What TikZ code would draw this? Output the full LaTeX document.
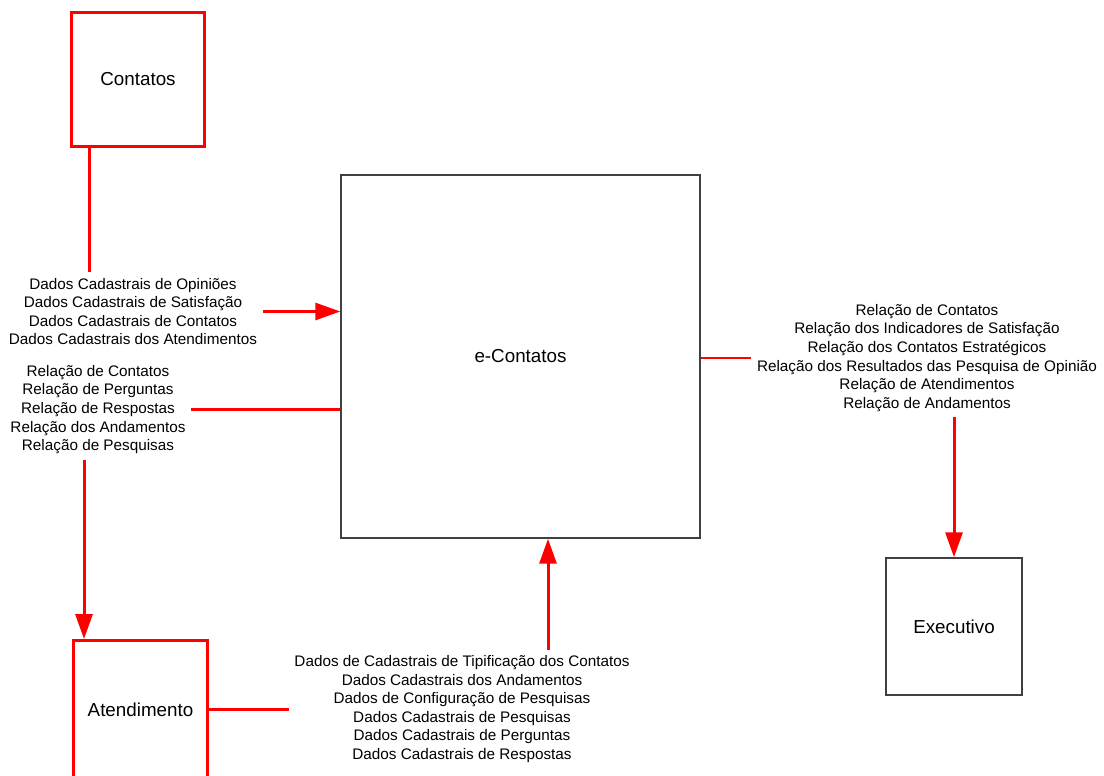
\documentclass[tikz,border=0pt]{standalone}
\usepackage{fontspec}
\setmainfont{Liberation Sans}
\usetikzlibrary{arrows.meta}
\begin{document}
\begin{tikzpicture}[x=0.02cm,y=-0.02cm,
  redbox/.style={draw=red,line width=0.06cm,minimum width=2.68cm,minimum height=2.68cm,font=\fontsize{10.7}{13}\selectfont},
  plainbox/.style={draw=black!75,line width=0.03cm,font=\fontsize{10.7}{13}\selectfont},
  lbl/.style={align=center,inner sep=3pt,font=\fontsize{8.7}{10.6}\selectfont},
  flow/.style={draw=red,line width=0.06cm},
  flowarrow/.style={flow,-{Triangle[length=0.5cm,width=0.34cm]}}]
\useasboundingbox (0,0) rectangle (1104,776);

% caixas
\node[redbox] (contatos) at (138,79.5) {Contatos};
\node[redbox,minimum height=2.76cm] (atendimento) at (140.5,709.5) {Atendimento};
\node[plainbox,minimum width=7.18cm,minimum height=7.26cm] (econtatos) at (520.5,356.5) {e-Contatos};
\node[plainbox,minimum width=2.72cm,minimum height=2.74cm] (executivo) at (954,626.5) {Executivo};

% textos dos fluxos
\node[lbl] (dadosA) at (133,311.5) {Dados Cadastrais de Opiniões\\Dados Cadastrais de Satisfação\\Dados Cadastrais de Contatos\\Dados Cadastrais dos Atendimentos};
\node[lbl] (relA) at (98,409.5) {Relação de Contatos\\Relação de Perguntas\\Relação de Respostas\\Relação dos Andamentos\\Relação de Pesquisas};
\node[lbl] (relB) at (927,358) {Relação de Contatos\\Relação dos Indicadores de Satisfação\\Relação dos Contatos Estratégicos\\Relação dos Resultados das Pesquisa de Opinião\\Relação de Atendimentos\\Relação de Andamentos};
\node[lbl] (dadosB) at (462,709) {Dados de Cadastrais de Tipificação dos Contatos\\Dados Cadastrais dos Andamentos\\Dados de Configuração de Pesquisas\\Dados Cadastrais de Pesquisas\\Dados Cadastrais de Perguntas\\Dados Cadastrais de Respostas};

\coordinate (xA) at (89,0);
\coordinate (xB) at (84,0);
\coordinate (xC) at (548,0);

% fluxos
\draw[flow] (contatos.south -| xA) -- (dadosA.north -| xA);
\draw[flowarrow] (dadosA.east) -- (econtatos.west |- dadosA.east);
\draw[flow] (relA.east) -- (econtatos.west |- relA.east);
\draw[flowarrow] (relA.south -| xB) -- (atendimento.north -| xB);
\draw[flow] (econtatos.east |- relB.west) -- (relB.west);
\draw[flowarrow] (relB.south -| executivo.north) -- (executivo.north);
\draw[flow] (atendimento.east) -- (dadosB.west |- atendimento.east);
\draw[flowarrow] (dadosB.north -| xC) -- (econtatos.south -| xC);
\end{tikzpicture}
\end{document}
